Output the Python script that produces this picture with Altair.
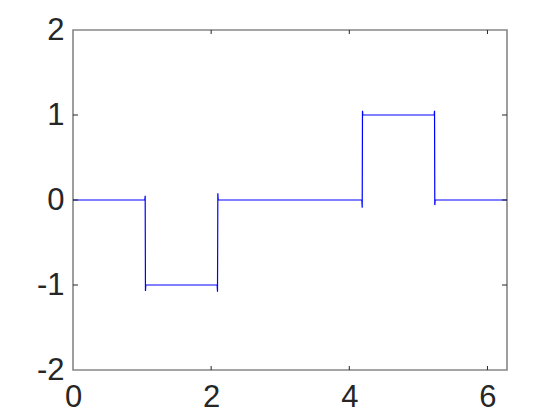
import altair as alt
import pandas as pd

# Step-function data (Fourier approximation with Gibbs overshoot)
xs = [0.0, 1.040, 1.045, 1.049, 1.054, 2.087, 2.092, 2.097, 2.102,
      4.182, 4.187, 4.191, 4.196, 5.229, 5.234, 5.238, 5.243, 6.2832]
ys = [0.0, 0.0, 0.05, -1.07, -1.0, -1.0, -1.08, 0.08, 0.0,
      0.0, -0.09, 1.05, 1.0, 1.0, 1.05, -0.06, 0.0, 0.0]

x_ticks = [0, 2, 4, 6]
y_ticks = [-2, -1, 0, 1, 2]

W, H = 434, 340
df = pd.DataFrame({"x": xs, "y": ys})
xt = pd.DataFrame({"t": [2, 4, 6]})
yt = pd.DataFrame({"t": [-1, 0, 1]})

xscale = alt.Scale(domain=[0, 6.2832], nice=False, zero=False)
yscale = alt.Scale(domain=[-2, 2], nice=False, zero=False)

lab = dict(labelFontSize=31, labelColor="#262626", labelFont="Liberation Sans",
           labelFlush=False, labelExpr="datum.value + ''")

line = alt.Chart(df).mark_line(color="#0000ff", strokeWidth=1.2, interpolate="linear").encode(
    x=alt.X("x:Q", scale=xscale, title=None,
            axis=alt.Axis(values=x_ticks, ticks=False, domain=False, grid=False,
                          labelPadding=12, **lab)),
    y=alt.Y("y:Q", scale=yscale, title=None,
            axis=alt.Axis(values=y_ticks, ticks=False, domain=False, grid=False,
                          labelPadding=9, **lab)),
)

tick_col = "#262626"
xb = alt.Chart(xt).mark_rule(color=tick_col, strokeWidth=1).encode(
    x=alt.X("t:Q", scale=xscale), y=alt.value(H), y2=alt.value(H - 4))
xtp = alt.Chart(xt).mark_rule(color=tick_col, strokeWidth=1).encode(
    x=alt.X("t:Q", scale=xscale), y=alt.value(0), y2=alt.value(4))
yl = alt.Chart(yt).mark_rule(color=tick_col, strokeWidth=1).encode(
    y=alt.Y("t:Q", scale=yscale), x=alt.value(0), x2=alt.value(5))
yr = alt.Chart(yt).mark_rule(color=tick_col, strokeWidth=1).encode(
    y=alt.Y("t:Q", scale=yscale), x=alt.value(W), x2=alt.value(W - 5))

chart = alt.layer(line, xb, xtp, yl, yr).properties(
    width=W, height=H,
    background="white",
    autosize=alt.AutoSizeParams(type="none"),
    padding={"left": 65, "top": 22, "right": 20, "bottom": 48},
).configure_view(stroke="#868686", strokeWidth=1.6)

chart.save("out.html", embed_options={"renderer": "svg", "actions": False})
